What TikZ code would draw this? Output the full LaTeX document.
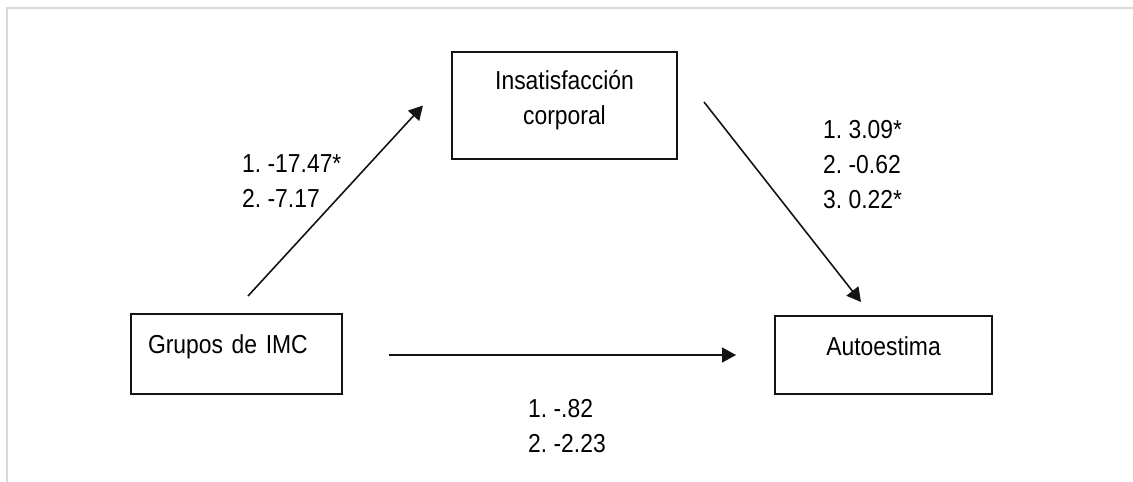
\documentclass[tikz,border=0pt]{standalone}
\usepackage{fontspec}
\setmainfont{Liberation Sans}[FakeStretch=0.88]
\usetikzlibrary{arrows.meta}
\definecolor{mediaInk}{RGB}{20,20,20}
\definecolor{mediaFrame}{RGB}{217,217,217}
\frenchspacing

\begin{document}
\begin{tikzpicture}[x=1pt, y=-1pt,
    varbox/.style={draw=mediaInk, line width=2pt, inner sep=0pt,
      text height=39pt, font=\fontsize{26}{35}\selectfont},
    coef/.style={inner sep=0pt, align=left, anchor=base west,
      font=\fontsize{26}{35}\selectfont},
    arrow/.style={-{Triangle[length=14pt,width=15pt]}, line width=1.6pt, color=mediaInk}
  ]
    \useasboundingbox (0,0) rectangle (1133,482);
    \draw[mediaFrame, line width=2pt] (7,482) -- (7,8) -- (1133,8);

    \node[varbox, minimum width=211pt, text depth=41pt, text width=177pt, align=left] (imc) at (236.5,354) {Grupos de IMC};
    \node[varbox, minimum width=217pt, text depth=39pt] (self) at (883.5,355) {Autoestima};
    \node[varbox, minimum width=225pt, text height=72pt, text depth=35pt, align=center] (body) at (564.5,105.5) {Insatisfacción\\corporal};

    \draw[arrow] ([shift={(11.5,-17)}]imc.north) -- ([xshift=-28pt]body.west);
    \draw[arrow] ([shift={(26,-3.5)}]body.east) -- ([shift={(-22.5,-13)}]self.north);
    \draw[arrow] ([shift={(46,1)}]imc.east) -- ([xshift=-38pt]self.west);

    % coefficients, anchored at the last baseline
    \node[coef] (pathA) at (242,207) {1. -17.47*\\2. -7.17};
    \node[coef] (pathB) at (823,208) {1. 3.09*\\2. -0.62\\3. 0.22*};
    \node[coef] (pathC) at (528,452) {1. -.82\\2. -2.23};
  \end{tikzpicture}
\end{document}
